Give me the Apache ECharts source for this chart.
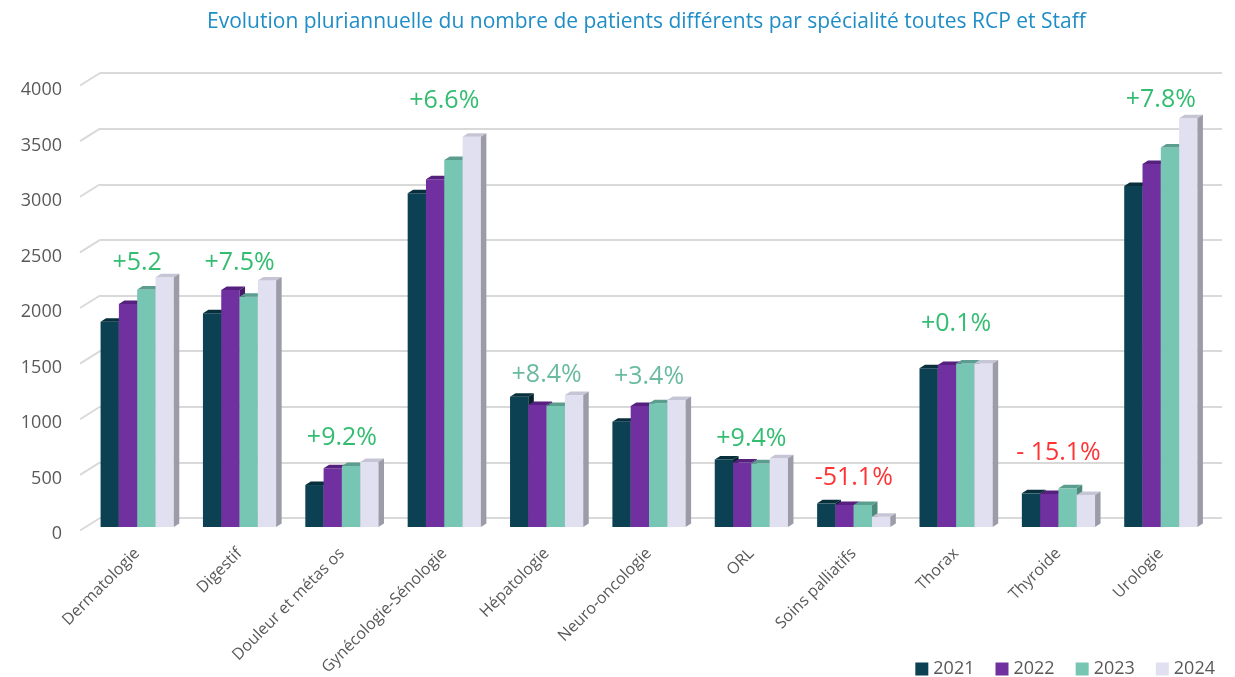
<!DOCTYPE html>
<html>
<head>
<meta charset="utf-8">
<title>Evolution pluriannuelle</title>
<script src="https://cdn.jsdelivr.net/npm/echarts@6.0.0/dist/echarts.min.js"></script>
<style>
  html, body { margin: 0; padding: 0; background: #fff; }
  #main { width: 1235px; height: 677px; }
</style>
</head>
<body>
<div id="main"></div>
<script>
// data
var categories = ['Dermatologie', 'Digestif', 'Douleur et métas os', 'Gynécologie-Sénologie', 'Hépatologie',
    'Neuro-oncologie', 'ORL', 'Soins palliatifs', 'Thorax', 'Thyroide', 'Urologie'];
var years = ['2021', '2022', '2023', '2024'];
var v2021 = [1850, 1925, 378, 3006, 1174, 949, 609, 213, 1430, 303, 3072];
var v2022 = [2010, 2135, 529, 3132, 1099, 1090, 580, 198, 1459, 298, 3270];
var v2023 = [2140, 2075, 550, 3306, 1090, 1114, 574, 198, 1474, 348, 3420];
var v2024 = [2250, 2220, 585, 3516, 1189, 1144, 619, 93, 1474, 288, 3682];
var growth = ['+5.2', '+7.5%', '+9.2%', '+6.6%', '+8.4%', '+3.4%', '+9.4%', '-51.1%', '+0.1%', '- 15.1%', '+7.8%'];
// height (in patients) where each text box sits
var growthAt = [2380, 2380, 800, 3840, 1370, 1350, 790, 440, 1830, 670, 3850];
var yTicks = [0, 500, 1000, 1500, 2000, 2500, 3000, 3500, 4000];

var values = [v2021, v2022, v2023, v2024];

// styles
var faces = [
    {front: '#0b4153', top: '#072f3c', side: '#05232d'},
    {front: '#7030a0', top: '#56217e', side: '#451a66'},
    {front: '#77c5b3', top: '#5b9d8e', side: '#4d8a7c'},
    {front: '#e1e0f0', top: '#c6c5d5', side: '#9c9ba8'}
];
var noteColors = ['#00ad4e', '#00ad4e', '#00ad4e', '#00ad4e', '#45a98a', '#45a98a',
    '#00ad4e', '#ff0000', '#00ad4e', '#ff0000', '#00ad4e'];
var barW = 18.3, depthX = 5.5, depthY = 3.5;
var grey = '#595959';
var font = 'Open Sans';

function barRenderer(s) {
    return function (params, api) {
        var base = api.coord([api.value(0), 0]);
        var top = api.coord([api.value(0), api.value(1)]);
        var x0 = base[0] - 2 * barW + s * barW;
        var x1 = x0 + barW;
        var f = faces[s];
        return {
            type: 'group',
            children: [
                {type: 'rect', shape: {x: x0, y: top[1], width: barW, height: base[1] - top[1]},
                    style: {fill: f.front}},
                {type: 'polygon', shape: {points: [[x0, top[1]], [x0 + depthX, top[1] - depthY],
                    [x1 + depthX, top[1] - depthY], [x1, top[1]]]}, style: {fill: f.top}},
                {type: 'polygon', shape: {points: [[x1, top[1]], [x1 + depthX, top[1] - depthY],
                    [x1 + depthX, base[1] - depthY], [x1, base[1]]]}, style: {fill: f.side}}
            ]
        };
    };
}

var series = years.map(function (y, s) {
    return {
        name: y,
        type: 'custom',
        xAxisIndex: 0,
        yAxisIndex: 0,
        itemStyle: {color: faces[s].front},
        renderItem: barRenderer(s),
        encode: {x: 0, y: 1},
        data: values[s].map(function (v, i) { return [i, v]; }),
        z: 3
    };
});

// slanted ends of the gridlines (front edge to back wall)
series.push({
    type: 'custom',
    xAxisIndex: 1,
    yAxisIndex: 1,
    silent: true,
    renderItem: function (params, api) {
        var p = api.coord([0, api.value(1)]);
        return {type: 'line', shape: {x1: p[0] - 20, y1: p[1] + 12.5, x2: p[0], y2: p[1]},
            style: {stroke: '#d9d9d9', lineWidth: 2}};
    },
    data: yTicks.map(function (v) { return [0, v]; }),
    z: 1
});

// growth text boxes
series.push({
    type: 'scatter',
    xAxisIndex: 0,
    yAxisIndex: 0,
    symbolSize: 1,
    itemStyle: {color: 'rgba(0,0,0,0)'},
    silent: true,
    label: {
        show: true,
        position: 'inside',
        fontFamily: font,
        fontSize: 25,
        formatter: function (p) { return growth[p.dataIndex]; }
    },
    data: growthAt.map(function (v, i) {
        return {value: [i, v], label: {color: noteColors[i]}};
    }),
    z: 5
});

var myChart = echarts.init(document.getElementById('main'));

option = {
    animation: false,
    title: {
        text: 'Evolution pluriannuelle du nombre de patients différents par spécialité toutes RCP et Staff',
        left: 202,
        top: 7,
        textStyle: {
            color: '#1f8dc6',
            fontFamily: font,
            fontSize: 21,
            fontWeight: 'normal'
        }
    },
    legend: {
        data: years,
        right: 15,
        top: 655,
        icon: 'rect',
        itemWidth: 13,
        itemHeight: 13,
        itemGap: 21,
        textStyle: {color: grey, fontFamily: font, fontSize: 18}
    },
    grid: [
        {left: 86, right: 23, top: 83, bottom: 150, outerBoundsMode: 'none'},
        {left: 100, right: 13, top: 73, bottom: 159, outerBoundsMode: 'none'}
    ],
    xAxis: [
        {
            type: 'category',
            gridIndex: 0,
            data: categories,
            axisLine: {show: false},
            axisTick: {show: false},
            axisLabel: {
                interval: 0,
                rotate: 45,
                margin: 24,
                color: grey,
                fontFamily: font,
                fontSize: 16
            }
        },
        {type: 'value', gridIndex: 1, min: 0, max: 1, show: false}
    ],
    yAxis: [
        {
            type: 'value',
            gridIndex: 0,
            min: 0,
            max: 4000,
            interval: 500,
            axisLine: {show: false},
            axisTick: {show: false},
            splitLine: {show: false},
            axisLabel: {
                margin: 24,
                color: grey,
                fontFamily: font,
                fontSize: 18,
                formatter: function (v) { return '{n|' + v + '}'; },
                rich: {n: {fontFamily: font, fontSize: 18, color: grey, padding: [14, 0, 0, 0]}}
            }
        },
        {
            type: 'value',
            gridIndex: 1,
            min: 0,
            max: 4000,
            interval: 500,
            axisLine: {show: false},
            axisTick: {show: false},
            axisLabel: {show: false},
            splitLine: {lineStyle: {color: '#d9d9d9', width: 2}}
        }
    ],
    series: series
};
myChart.setOption(option);
</script>
</body>
</html>
